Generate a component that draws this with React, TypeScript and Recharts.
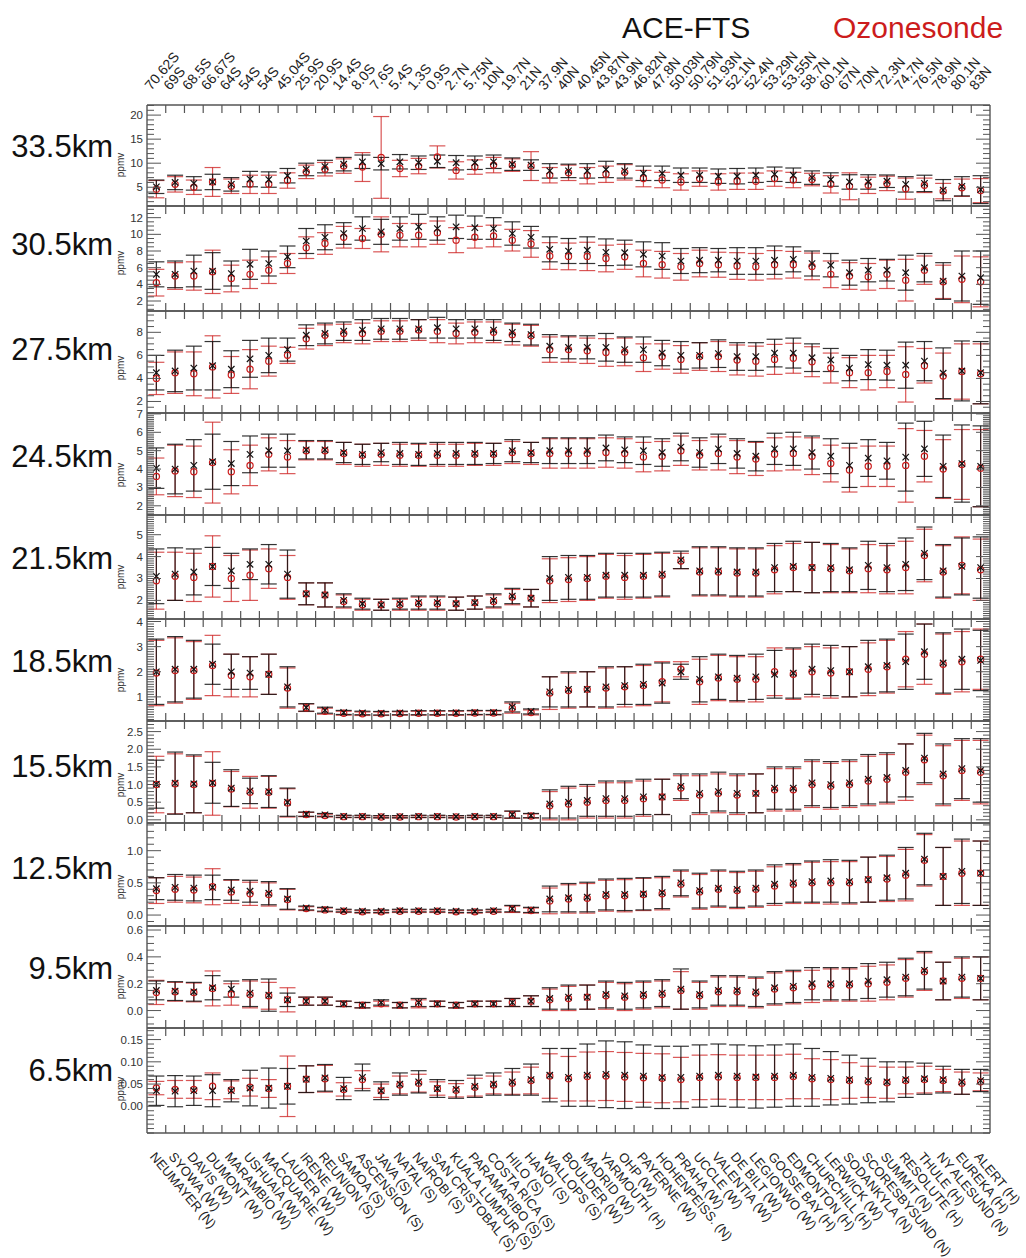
import React from "react";
import { ScatterChart, Scatter, XAxis, YAxis, ErrorBar, ReferenceLine } from "recharts";

// ─── Stations (south → north) ────────────────────────────────────────────────

const latitudes = [
  "70.62S", "69S", "68.5S", "66.67S", "64S", "54S", "54S", "45.04S", "25.9S", "20.9S",
  "14.4S", "8.0S", "7.6S", "5.4S", "1.3S", "0.9S", "2.7N", "5.75N", "10N", "19.7N",
  "21N", "37.9N", "40N", "40.45N", "43.87N", "43.9N", "46.82N", "47.8N", "50.03N", "50.79N",
  "51.93N", "52.1N", "52.4N", "53.29N", "53.55N", "58.7N", "60.1N", "67N", "70N", "72.3N",
  "74.7N", "76.5N", "78.9N", "80.1N", "83N",
];

const stations = [
  "NEUMAYER (N)", "SYOWA (W)", "DAVIS (W)", "DUMONT (W)", "MARAMBIO (W)", "USHUAIA (W)",
  "MACQUARIE (W)", "LAUDER (W)", "IRENE (W)", "REUNION (S)", "SAMOA (S)", "ASCENSION (S)",
  "JAVA (S)", "NATAL (S)", "NAIROBI (S)", "SAN CRISTOBAL (S)", "KUALA LUMPUR (S)",
  "PARAMARIBO (S)", "COSTA RICA (S)", "HILO (S)", "HANOI (S)", "WALLOPS (S)", "BOULDER (W)",
  "MADRID (W)", "YARMOUTH (H)", "OHP (W)", "PAYERNE (W)", "HOHENPEISS. (N)", "PRAHA (W)",
  "UCCLE (W)", "VALENTIA (W)", "DE BILT (W)", "LEGIONWO (W)", "GOOSE BAY (H)", "EDMONTON (H)",
  "CHURCHILL (H)", "LERWICK (W)", "SODANKYLA (N)", "SCORESBYSUND (N)", "SUMMIT (N)",
  "RESOLUTE (H)", "THULE (H)", "NY ALESUND (N)", "EUREKA (H)", "ALERT (H)",
];

// ─── Values (ppmv) per altitude: ACE-FTS mean / error, ozonesonde mean / error ─

const ace335 = [5.1, 6.0, 5.8, 6.1, 5.6, 6.7, 6.6, 7.4, 8.7, 9.3, 9.8, 10.3, 9.9, 10.3, 10.1, 10.4, 10.1, 10.1, 10.3, 9.8, 9.6, 8.4, 8.4, 8.4, 8.7, 8.4, 7.9, 7.9, 7.5, 7.5, 7.3, 7.3, 7.5, 7.7, 7.5, 7.0, 6.6, 6.1, 6.1, 6.25, 5.6, 5.8, 4.4, 5.2, 4.5];
const aceErr335 = [1.4, 1.5, 1.4, 1.6, 1.4, 1.6, 1.6, 1.5, 1.3, 1.3, 1.4, 1.4, 1.3, 1.5, 1.4, 1.3, 1.5, 1.4, 1.4, 1.3, 1.1, 1.5, 1.4, 1.5, 1.7, 1.5, 1.5, 1.5, 1.5, 1.5, 1.5, 1.6, 1.5, 1.5, 1.5, 1.4, 1.4, 1.5, 1.5, 1.3, 1.6, 1.7, 2.2, 2.0, 2.9];
const sonde335 = [4.6, 5.6, 5.0, 6.1, 5.2, 5.6, 5.6, 6.4, 8.2, 8.75, 9.4, 9.2, 11.2, 8.9, 9.4, 11.3, 8.5, 9.2, 9.6, 9.6, 9.4, 7.5, 8.0, 7.4, 7.7, 8.1, 6.8, 6.5, 6.1, 6.8, 6.1, 6.25, 6.25, 6.8, 6.5, 6.6, 5.6, 5.2, 5.4, 5.8, 4.7, 5.4, 4.2, 4.9, 4.3];
const sondeErr335 = [1.8, 1.6, 1.5, 3.0, 1.5, 1.9, 1.9, 1.6, 1.4, 1.4, 1.5, 3.0, 8.5, 1.7, 1.6, 2.3, 1.8, 1.5, 1.6, 1.3, 3.0, 1.6, 1.6, 1.7, 1.7, 1.6, 1.7, 1.6, 1.7, 1.6, 1.7, 1.7, 1.7, 1.6, 1.6, 1.3, 1.8, 2.8, 1.7, 1.5, 2.2, 1.5, 1.6, 1.8, 2.5];

const ace305 = [5.2, 5.2, 5.6, 5.6, 5.3, 6.4, 6.5, 7.3, 9.2, 9.65, 10.1, 10.7, 10.3, 10.7, 10.9, 10.7, 10.9, 10.8, 10.7, 10.1, 9.65, 8.2, 8.0, 8.1, 7.85, 7.8, 7.6, 7.4, 6.8, 6.9, 6.9, 6.8, 6.8, 6.9, 7.0, 6.5, 6.3, 5.4, 5.7, 5.7, 5.4, 6.0, 4.4, 5.0, 4.8];
const aceErr305 = [1.5, 1.6, 1.9, 2.2, 1.5, 1.8, 1.5, 1.3, 1.5, 1.5, 1.3, 1.4, 1.5, 1.4, 1.5, 1.4, 1.4, 1.4, 1.3, 1.4, 1.3, 1.5, 1.5, 1.6, 1.6, 1.5, 1.5, 1.6, 1.5, 1.5, 1.4, 1.6, 1.6, 1.7, 1.5, 1.5, 1.4, 1.5, 1.4, 1.3, 2.1, 1.7, 2.2, 3.0, 3.2];
const sonde305 = [4.2, 5.0, 5.0, 5.5, 4.7, 5.2, 5.7, 6.5, 8.4, 8.9, 9.65, 9.5, 10.0, 9.9, 9.9, 10.2, 9.3, 9.65, 9.8, 9.3, 8.85, 7.4, 7.35, 7.35, 7.1, 7.3, 6.5, 6.35, 6.1, 6.5, 6.35, 6.2, 6.1, 6.35, 6.35, 6.15, 5.2, 5.0, 4.9, 5.2, 4.5, 5.7, 4.3, 4.6, 4.3];
const sondeErr305 = [1.6, 1.6, 1.7, 2.6, 1.6, 1.7, 1.6, 1.2, 1.3, 1.3, 1.3, 1.2, 2.1, 1.4, 1.4, 1.4, 1.5, 1.3, 1.3, 1.3, 1.6, 1.6, 1.6, 1.7, 1.6, 1.5, 1.6, 1.6, 1.6, 1.6, 1.5, 1.6, 1.6, 1.7, 1.6, 1.6, 1.6, 1.6, 1.6, 1.7, 2.5, 1.7, 2.0, 2.8, 3.0];

const ace275 = [4.5, 4.65, 4.9, 5.1, 4.8, 5.7, 6.0, 6.5, 7.75, 7.9, 8.1, 8.2, 8.3, 8.3, 8.3, 8.4, 8.3, 8.3, 8.2, 8.0, 7.8, 6.8, 6.7, 6.7, 6.7, 6.5, 6.5, 6.2, 6.0, 6.0, 6.15, 5.9, 5.9, 6.2, 6.2, 5.8, 5.6, 4.9, 5.2, 5.15, 5.15, 5.5, 4.45, 4.65, 4.5];
const aceErr275 = [1.5, 1.8, 1.9, 2.1, 1.6, 1.6, 1.5, 1.0, 0.9, 0.9, 0.8, 0.9, 0.9, 0.9, 0.8, 0.9, 0.8, 0.8, 0.9, 0.8, 0.9, 1.0, 1.0, 1.0, 1.2, 1.1, 1.1, 1.1, 1.2, 1.1, 1.2, 1.2, 1.2, 1.2, 1.3, 1.2, 1.0, 1.1, 1.3, 1.3, 2.0, 1.7, 2.2, 2.6, 2.7];
const sonde275 = [4.0, 4.5, 4.4, 5.0, 4.3, 4.8, 5.5, 6.0, 7.45, 7.75, 7.9, 7.9, 8.1, 8.1, 8.2, 8.1, 7.9, 8.0, 8.0, 7.8, 7.7, 6.5, 6.5, 6.4, 6.25, 6.3, 5.8, 5.9, 5.65, 5.9, 5.9, 5.6, 5.5, 5.65, 5.75, 5.45, 4.9, 4.5, 4.5, 4.6, 4.35, 5.1, 4.2, 4.6, 4.4];
const sondeErr275 = [1.4, 1.8, 1.9, 2.7, 1.6, 1.7, 1.3, 0.7, 0.9, 0.9, 0.8, 0.9, 0.9, 0.9, 0.9, 1.0, 0.9, 0.9, 0.9, 0.9, 0.9, 1.1, 1.1, 1.1, 1.2, 1.2, 1.2, 1.1, 1.2, 1.2, 1.3, 1.3, 1.3, 1.3, 1.3, 1.3, 1.3, 1.3, 1.5, 1.4, 2.4, 1.5, 2.0, 2.4, 2.6];

const ace245 = [4.05, 4.0, 4.2, 4.4, 4.3, 4.8, 5.0, 5.0, 5.05, 5.05, 4.9, 4.8, 4.9, 4.85, 4.8, 4.85, 4.85, 4.85, 4.85, 5.0, 4.9, 5.0, 5.0, 5.0, 5.15, 5.05, 5.0, 4.9, 5.2, 4.9, 5.1, 4.85, 4.7, 5.1, 5.1, 4.9, 4.7, 4.2, 4.6, 4.45, 4.65, 5.1, 4.15, 4.3, 4.15];
const aceErr245 = [1.1, 1.35, 1.4, 1.5, 1.2, 1.0, 0.9, 0.9, 0.5, 0.5, 0.55, 0.55, 0.5, 0.6, 0.6, 0.6, 0.6, 0.6, 0.55, 0.6, 0.55, 0.7, 0.7, 0.7, 0.7, 0.7, 0.75, 0.75, 0.75, 0.8, 0.8, 0.8, 0.8, 0.85, 0.9, 0.9, 0.95, 1.2, 1.0, 1.0, 1.85, 1.5, 1.7, 2.1, 2.2];
const sonde245 = [3.6, 3.9, 3.85, 4.35, 3.85, 4.2, 4.8, 4.65, 5.0, 5.0, 4.85, 4.75, 4.8, 4.75, 4.75, 4.75, 4.75, 4.8, 4.8, 4.9, 4.85, 4.85, 4.85, 4.85, 4.9, 4.85, 4.65, 4.7, 5.0, 4.75, 4.85, 4.65, 4.55, 4.8, 4.85, 4.7, 4.3, 3.95, 4.15, 4.15, 4.2, 4.7, 4.0, 4.25, 4.05];
const sondeErr245 = [1.0, 1.4, 1.4, 2.2, 1.2, 1.1, 0.9, 0.9, 0.5, 0.5, 0.6, 0.6, 0.6, 0.6, 0.6, 0.6, 0.6, 0.6, 0.6, 0.6, 0.6, 0.8, 0.8, 0.8, 0.8, 0.8, 0.8, 0.8, 0.8, 0.8, 0.9, 0.9, 0.9, 0.9, 0.9, 1.0, 1.0, 1.2, 1.1, 1.1, 2.0, 1.4, 1.6, 1.9, 2.1];

const ace215 = [3.1, 3.2, 3.3, 3.55, 3.35, 3.65, 3.65, 3.2, 2.3, 2.25, 2.0, 1.85, 1.8, 1.85, 1.9, 1.9, 1.85, 1.9, 2.0, 2.2, 2.1, 3.0, 3.05, 3.05, 3.15, 3.15, 3.15, 3.2, 3.85, 3.35, 3.35, 3.3, 3.3, 3.5, 3.55, 3.5, 3.5, 3.4, 3.6, 3.5, 3.65, 4.15, 3.35, 3.55, 3.5];
const aceErr215 = [1.25, 1.2, 1.05, 0.87, 0.8, 0.7, 0.9, 1.1, 0.5, 0.55, 0.3, 0.25, 0.25, 0.25, 0.3, 0.3, 0.3, 0.3, 0.3, 0.35, 0.4, 1.0, 1.0, 1.0, 1.0, 1.0, 1.0, 1.0, 0.4, 1.1, 1.1, 1.1, 1.1, 1.1, 1.15, 1.15, 1.1, 1.0, 1.1, 1.1, 1.2, 1.2, 1.2, 1.3, 1.4];
const sonde215 = [2.9, 3.1, 3.05, 3.55, 3.0, 3.15, 3.45, 3.05, 2.3, 2.25, 1.95, 1.8, 1.8, 1.8, 1.85, 1.85, 1.85, 1.9, 1.95, 2.15, 2.1, 2.9, 2.95, 3.0, 3.1, 3.05, 3.1, 3.15, 3.8, 3.3, 3.3, 3.25, 3.25, 3.4, 3.5, 3.5, 3.45, 3.35, 3.45, 3.4, 3.5, 4.05, 3.3, 3.6, 3.4];
const sondeErr215 = [1.3, 1.1, 1.1, 1.4, 1.05, 1.15, 0.9, 1.0, 0.5, 0.55, 0.3, 0.25, 0.25, 0.25, 0.3, 0.3, 0.3, 0.3, 0.3, 0.35, 0.4, 1.0, 1.0, 1.0, 1.0, 1.0, 1.0, 1.0, 0.35, 1.1, 1.1, 1.1, 1.1, 1.1, 1.1, 1.15, 1.1, 1.0, 1.1, 1.1, 1.2, 1.2, 1.2, 1.3, 1.4];

const ace185 = [2.0, 2.1, 2.1, 2.3, 2.0, 1.95, 1.9, 1.4, 0.58, 0.47, 0.38, 0.36, 0.35, 0.36, 0.37, 0.37, 0.37, 0.38, 0.38, 0.6, 0.42, 1.2, 1.3, 1.3, 1.4, 1.45, 1.5, 1.55, 2.0, 1.7, 1.8, 1.75, 1.8, 1.9, 1.95, 2.1, 2.05, 2.0, 2.2, 2.25, 2.4, 2.8, 2.35, 2.5, 2.45];
const aceErr185 = [1.3, 1.3, 1.15, 0.8, 0.7, 0.65, 0.8, 0.8, 0.15, 0.12, 0.08, 0.07, 0.07, 0.07, 0.08, 0.08, 0.08, 0.08, 0.08, 0.2, 0.1, 0.6, 0.7, 0.7, 0.8, 0.75, 0.8, 0.8, 0.3, 0.9, 0.9, 0.9, 0.9, 0.95, 1.0, 1.0, 1.0, 1.0, 1.05, 1.05, 1.1, 1.1, 1.2, 1.2, 1.2];
const sonde185 = [1.95, 2.05, 2.05, 2.25, 1.85, 1.8, 1.9, 1.35, 0.57, 0.43, 0.35, 0.33, 0.33, 0.34, 0.35, 0.35, 0.35, 0.36, 0.36, 0.55, 0.38, 1.15, 1.25, 1.3, 1.35, 1.4, 1.45, 1.6, 2.1, 1.6, 1.75, 1.7, 1.7, 2.0, 1.9, 2.0, 1.95, 2.0, 2.1, 2.2, 2.5, 2.7, 2.3, 2.4, 2.5];
const sondeErr185 = [1.3, 1.3, 1.15, 1.2, 0.85, 0.8, 0.8, 0.8, 0.15, 0.12, 0.08, 0.07, 0.07, 0.07, 0.08, 0.08, 0.08, 0.08, 0.08, 0.2, 0.1, 0.65, 0.7, 0.7, 0.8, 0.8, 0.8, 0.8, 0.3, 0.9, 0.9, 0.9, 0.9, 0.95, 1.0, 1.0, 1.0, 1.0, 1.05, 1.05, 1.1, 1.2, 1.2, 1.2, 1.2];

const ace155 = [1.01, 1.04, 1.02, 1.05, 0.9, 0.82, 0.8, 0.5, 0.16, 0.14, 0.1, 0.1, 0.09, 0.09, 0.1, 0.1, 0.09, 0.1, 0.1, 0.15, 0.12, 0.45, 0.5, 0.55, 0.6, 0.6, 0.65, 0.65, 0.95, 0.75, 0.8, 0.75, 0.75, 0.9, 0.9, 1.05, 1.0, 1.05, 1.15, 1.2, 1.4, 1.75, 1.3, 1.45, 1.4];
const aceErr155 = [0.68, 0.88, 0.82, 0.58, 0.52, 0.36, 0.45, 0.4, 0.06, 0.04, 0.03, 0.03, 0.03, 0.03, 0.03, 0.03, 0.03, 0.03, 0.03, 0.1, 0.06, 0.4, 0.45, 0.45, 0.5, 0.5, 0.5, 0.5, 0.35, 0.55, 0.55, 0.55, 0.55, 0.6, 0.6, 0.65, 0.65, 0.65, 0.7, 0.7, 0.75, 0.7, 0.85, 0.85, 0.9];
const sonde155 = [1.0, 1.02, 1.0, 1.03, 0.87, 0.78, 0.78, 0.48, 0.15, 0.12, 0.09, 0.09, 0.08, 0.08, 0.09, 0.09, 0.08, 0.09, 0.09, 0.14, 0.11, 0.4, 0.45, 0.5, 0.55, 0.55, 0.6, 0.65, 0.9, 0.7, 0.75, 0.7, 0.75, 0.85, 0.85, 1.0, 0.95, 1.0, 1.1, 1.15, 1.35, 1.7, 1.25, 1.4, 1.35];
const sondeErr155 = [0.8, 0.85, 0.8, 0.9, 0.5, 0.45, 0.45, 0.4, 0.06, 0.04, 0.03, 0.03, 0.03, 0.03, 0.03, 0.03, 0.03, 0.03, 0.03, 0.1, 0.06, 0.4, 0.45, 0.45, 0.5, 0.5, 0.5, 0.5, 0.35, 0.55, 0.55, 0.55, 0.55, 0.6, 0.6, 0.65, 0.65, 0.65, 0.7, 0.7, 0.8, 0.7, 0.85, 0.85, 0.9];

const ace125 = [0.41, 0.43, 0.42, 0.43, 0.39, 0.37, 0.34, 0.25, 0.11, 0.09, 0.07, 0.06, 0.06, 0.07, 0.07, 0.07, 0.06, 0.06, 0.07, 0.1, 0.08, 0.25, 0.27, 0.28, 0.32, 0.32, 0.33, 0.35, 0.5, 0.38, 0.42, 0.4, 0.42, 0.48, 0.5, 0.52, 0.53, 0.52, 0.55, 0.58, 0.65, 0.87, 0.6, 0.68, 0.65];
const aceErr125 = [0.17, 0.2, 0.2, 0.19, 0.16, 0.17, 0.18, 0.16, 0.03, 0.03, 0.02, 0.02, 0.02, 0.02, 0.02, 0.02, 0.02, 0.02, 0.02, 0.05, 0.04, 0.2, 0.22, 0.23, 0.24, 0.25, 0.25, 0.25, 0.2, 0.27, 0.28, 0.28, 0.28, 0.3, 0.3, 0.32, 0.33, 0.33, 0.35, 0.35, 0.4, 0.4, 0.45, 0.5, 0.5];
const sonde125 = [0.38, 0.4, 0.39, 0.44, 0.36, 0.33, 0.32, 0.24, 0.1, 0.08, 0.06, 0.05, 0.05, 0.06, 0.06, 0.06, 0.05, 0.05, 0.06, 0.09, 0.07, 0.22, 0.25, 0.26, 0.3, 0.3, 0.32, 0.33, 0.48, 0.36, 0.4, 0.38, 0.4, 0.45, 0.48, 0.5, 0.5, 0.5, 0.55, 0.56, 0.62, 0.85, 0.6, 0.65, 0.65];
const sondeErr125 = [0.2, 0.2, 0.2, 0.28, 0.18, 0.18, 0.18, 0.16, 0.03, 0.03, 0.02, 0.02, 0.02, 0.02, 0.02, 0.02, 0.02, 0.02, 0.02, 0.05, 0.04, 0.2, 0.22, 0.23, 0.24, 0.25, 0.25, 0.25, 0.2, 0.27, 0.28, 0.28, 0.28, 0.3, 0.3, 0.32, 0.33, 0.33, 0.35, 0.35, 0.4, 0.4, 0.45, 0.5, 0.5];

const ace95 = [0.15, 0.145, 0.14, 0.17, 0.16, 0.13, 0.115, 0.08, 0.07, 0.07, 0.05, 0.04, 0.06, 0.04, 0.06, 0.05, 0.04, 0.05, 0.05, 0.06, 0.07, 0.09, 0.1, 0.1, 0.12, 0.11, 0.12, 0.13, 0.16, 0.12, 0.15, 0.15, 0.14, 0.17, 0.18, 0.2, 0.2, 0.2, 0.22, 0.23, 0.25, 0.3, 0.22, 0.25, 0.24];
const aceErr95 = [0.07, 0.07, 0.07, 0.09, 0.06, 0.1, 0.12, 0.05, 0.03, 0.03, 0.02, 0.02, 0.02, 0.02, 0.03, 0.02, 0.02, 0.02, 0.02, 0.03, 0.04, 0.08, 0.09, 0.09, 0.1, 0.1, 0.1, 0.1, 0.15, 0.1, 0.11, 0.11, 0.11, 0.12, 0.12, 0.12, 0.12, 0.12, 0.13, 0.13, 0.14, 0.14, 0.14, 0.15, 0.16];
const sonde95 = [0.135, 0.14, 0.135, 0.165, 0.12, 0.12, 0.11, 0.08, 0.07, 0.07, 0.05, 0.04, 0.05, 0.04, 0.05, 0.05, 0.04, 0.05, 0.05, 0.06, 0.07, 0.08, 0.09, 0.1, 0.11, 0.1, 0.11, 0.12, 0.15, 0.11, 0.14, 0.14, 0.13, 0.16, 0.17, 0.18, 0.19, 0.19, 0.2, 0.21, 0.24, 0.29, 0.22, 0.24, 0.24];
const sondeErr95 = [0.09, 0.07, 0.07, 0.13, 0.08, 0.1, 0.1, 0.09, 0.03, 0.03, 0.02, 0.02, 0.02, 0.02, 0.03, 0.02, 0.02, 0.02, 0.02, 0.03, 0.04, 0.08, 0.09, 0.09, 0.1, 0.1, 0.1, 0.1, 0.14, 0.1, 0.11, 0.11, 0.11, 0.12, 0.12, 0.12, 0.12, 0.12, 0.13, 0.13, 0.14, 0.14, 0.14, 0.15, 0.16];

const ace65 = [0.035, 0.034, 0.035, 0.035, 0.035, 0.041, 0.041, 0.045, 0.061, 0.064, 0.04, 0.065, 0.035, 0.05, 0.055, 0.04, 0.038, 0.045, 0.05, 0.055, 0.06, 0.07, 0.065, 0.07, 0.072, 0.07, 0.068, 0.065, 0.065, 0.068, 0.07, 0.068, 0.066, 0.068, 0.07, 0.065, 0.063, 0.06, 0.058, 0.055, 0.06, 0.062, 0.06, 0.055, 0.058];
const aceErr65 = [0.033, 0.035, 0.033, 0.036, 0.025, 0.04, 0.045, 0.04, 0.03, 0.03, 0.025, 0.03, 0.02, 0.025, 0.025, 0.02, 0.02, 0.025, 0.025, 0.03, 0.035, 0.06, 0.065, 0.07, 0.075, 0.075, 0.07, 0.07, 0.07, 0.07, 0.07, 0.07, 0.07, 0.07, 0.07, 0.065, 0.06, 0.055, 0.05, 0.045, 0.04, 0.035, 0.03, 0.028, 0.025];
const sonde65 = [0.041, 0.038, 0.038, 0.045, 0.037, 0.043, 0.04, 0.045, 0.061, 0.062, 0.038, 0.06, 0.035, 0.048, 0.052, 0.04, 0.036, 0.043, 0.048, 0.052, 0.058, 0.068, 0.062, 0.067, 0.068, 0.066, 0.064, 0.063, 0.06, 0.065, 0.066, 0.065, 0.065, 0.065, 0.067, 0.062, 0.06, 0.058, 0.055, 0.053, 0.058, 0.06, 0.058, 0.052, 0.055];
const sondeErr65 = [0.015, 0.02, 0.02, 0.03, 0.02, 0.02, 0.02, 0.068, 0.03, 0.03, 0.015, 0.02, 0.015, 0.02, 0.02, 0.015, 0.015, 0.02, 0.02, 0.025, 0.03, 0.05, 0.05, 0.055, 0.055, 0.055, 0.055, 0.055, 0.05, 0.05, 0.05, 0.05, 0.05, 0.05, 0.05, 0.045, 0.045, 0.04, 0.035, 0.035, 0.03, 0.03, 0.025, 0.025, 0.02];

// ─── Axis ticks per panel ────────────────────────────────────────────────────

const ticks335 = [5, 10, 15, 20];
const ticks305 = [2, 4, 6, 8, 10, 12];
const ticks275 = [2, 4, 6, 8];
const ticks245 = [2, 3, 4, 5, 6, 7];
const ticks215 = [2, 3, 4, 5];
const ticks185 = [1, 2, 3, 4];
const ticks155 = [0, 0.5, 1, 1.5, 2, 2.5];
const ticks125 = [0, 0.5, 1];
const ticks95 = [0, 0.2, 0.4, 0.6];
const ticks65 = [0, 0.05, 0.1, 0.15];

// ─── Layout ──────────────────────────────────────────────────────────────────

const W = 1026;
const H = 1258;
const PLOT_LEFT = 147;
const PLOT_RIGHT = 990;
const STEP = (PLOT_RIGHT - PLOT_LEFT) / stations.length;
const RED = "#cc1c1c";
const AXIS = "#555";
const FONT = "'Liberation Sans', Arial, Helvetica, sans-serif";
const X_AXIS_H = 1; // CartesianAxis renders nothing at height 0

type Panel = {
  label: string; labelY: number; top: number; bottom: number;
  domain: [number, number]; major: number[]; minorStep: number; digits: number;
  ace: number[]; aceErr: number[]; sonde: number[]; sondeErr: number[];
};

const panels: Panel[] = [
  { label: "33.5km", labelY: 157, top: 105, bottom: 206, domain: [1.1, 22.1], major: ticks335, minorStep: 1, digits: 0, ace: ace335, aceErr: aceErr335, sonde: sonde335, sondeErr: sondeErr335 },
  { label: "30.5km", labelY: 255, top: 206, bottom: 311, domain: [0.8, 13.4], major: ticks305, minorStep: 0.5, digits: 0, ace: ace305, aceErr: aceErr305, sonde: sonde305, sondeErr: sondeErr305 },
  { label: "27.5km", labelY: 360, top: 311, bottom: 413, domain: [1.0, 9.85], major: ticks275, minorStep: 0.5, digits: 0, ace: ace275, aceErr: aceErr275, sonde: sonde275, sondeErr: sondeErr275 },
  { label: "24.5km", labelY: 467, top: 413, bottom: 515, domain: [1.5, 7.05], major: ticks245, minorStep: 0.1, digits: 0, ace: ace245, aceErr: aceErr245, sonde: sonde245, sondeErr: sondeErr245 },
  { label: "21.5km", labelY: 569, top: 515, bottom: 619, domain: [1.15, 5.9], major: ticks215, minorStep: 0.1, digits: 0, ace: ace215, aceErr: aceErr215, sonde: sonde215, sondeErr: sondeErr215 },
  { label: "18.5km", labelY: 672, top: 619, bottom: 721, domain: [0.04, 4.1], major: ticks185, minorStep: 0.1, digits: 0, ace: ace185, aceErr: aceErr185, sonde: sonde185, sondeErr: sondeErr185 },
  { label: "15.5km", labelY: 777, top: 721, bottom: 823, domain: [-0.09, 2.8], major: ticks155, minorStep: 0.1, digits: 1, ace: ace155, aceErr: aceErr155, sonde: sonde155, sondeErr: sondeErr155 },
  { label: "12.5km", labelY: 879, top: 823, bottom: 926, domain: [-0.17, 1.43], major: ticks125, minorStep: 0.1, digits: 1, ace: ace125, aceErr: aceErr125, sonde: sonde125, sondeErr: sondeErr125 },
  { label: "9.5km", labelY: 979, top: 926, bottom: 1028, domain: [-0.13, 0.63], major: ticks95, minorStep: 0.05, digits: 1, ace: ace95, aceErr: aceErr95, sonde: sonde95, sondeErr: sondeErr95 },
  { label: "6.5km", labelY: 1081, top: 1028, bottom: 1133, domain: [-0.06, 0.176], major: ticks65, minorStep: 0.01, digits: 2, ace: ace65, aceErr: aceErr65, sonde: sonde65, sondeErr: sondeErr65 },
];

const stationIdx = stations.map((_, i) => i);

function buildTicks(domain: [number, number], major: number[], step: number) {
  const out = major.filter((v) => v >= domain[0] && v <= domain[1] + 1e-9);
  const start = Math.ceil(domain[0] / step - 1e-9);
  for (let k = start; k * step <= domain[1] + 1e-9; k++) {
    const v = +(k * step).toFixed(6);
    if (!major.some((m) => Math.abs(m - v) < 1e-9)) out.push(v);
  }
  return out.sort((a, b) => a - b);
}

// ─── Markers ─────────────────────────────────────────────────────────────────

const CrossShape = (props: any) => {
  const { cx, cy } = props;
  const s = 3.2;
  return (
    <g stroke="#111" strokeWidth={1.2}>
      <line x1={cx - s} y1={cy - s} x2={cx + s} y2={cy + s} />
      <line x1={cx - s} y1={cy + s} x2={cx + s} y2={cy - s} />
    </g>
  );
};

const CircleShape = (props: any) => (
  <circle cx={props.cx} cy={props.cy} r={3.1} fill="none" stroke={RED} strokeWidth={1.2} />
);

// ─── One altitude panel ──────────────────────────────────────────────────────

function PanelChart({ p, index }: { p: Panel; index: number }) {
  const first = index === 0;
  const last = index === panels.length - 1;
  const marginTop = first ? p.top : 10;
  const marginBottom = (last ? H - p.bottom : 10) - X_AXIS_H;
  const chartTop = p.top - marginTop;
  const height = p.bottom - p.top + marginTop + marginBottom + X_AXIS_H;

  const aceData = stationIdx.map((i) => ({ x: i, y: p.ace[i], e: p.aceErr[i] }));
  const sondeData = stationIdx.map((i) => ({ x: i, y: p.sonde[i], e: p.sondeErr[i] }));
  const yTicks = buildTicks(p.domain, p.major, p.minorStep);

  const yTick = (props: any) => {
    const { y, payload } = props;
    const v = payload.value as number;
    const isMajor = p.major.some((m) => Math.abs(m - v) < 1e-9);
    const len = isMajor ? 14 : 7;
    return (
      <g>
        <line x1={PLOT_LEFT} x2={PLOT_LEFT + len} y1={y} y2={y} stroke={AXIS} strokeWidth={1} />
        <line x1={PLOT_RIGHT - len} x2={PLOT_RIGHT} y1={y} y2={y} stroke={AXIS} strokeWidth={1} />
        {isMajor && (
          <text x={PLOT_LEFT - 4} y={y + 4} textAnchor="end" fontSize={11.5} fill="#333" fontFamily={FONT}>
            {v.toFixed(p.digits)}
          </text>
        )}
      </g>
    );
  };

  const xTick = (props: any) => {
    const { x, payload } = props;
    const i = payload.value as number;
    const bottomY = p.bottom - chartTop;
    const topY = p.top - chartTop;
    const mx = x + STEP / 2;
    return (
      <g>
        {i < stations.length - 1 && (
          <>
            <line x1={mx} x2={mx} y1={bottomY} y2={bottomY - 8} stroke={AXIS} strokeWidth={1.2} />
            <line x1={mx} x2={mx} y1={topY} y2={topY + 8} stroke={AXIS} strokeWidth={1.2} />
          </>
        )}
        {first && (
          <text transform={`translate(${x - 5},${topY - 14}) rotate(-50)`} fontSize={14} fill="#222" fontFamily={FONT}>
            {latitudes[i]}
          </text>
        )}
        {last && (
          <text transform={`translate(${x - 7},${bottomY + 24}) rotate(50)`} fontSize={13} fill="#222" fontFamily={FONT}>
            {stations[i]}
          </text>
        )}
      </g>
    );
  };

  return (
    <div style={{ position: "absolute", left: 0, top: chartTop }}>
      <ScatterChart width={W} height={height} margin={{ top: marginTop, right: W - PLOT_RIGHT, bottom: marginBottom, left: 0 }}>
        <XAxis
          type="number"
          dataKey="x"
          domain={[-0.5, stations.length - 0.5]}
          ticks={stationIdx}
          interval={0}
          height={X_AXIS_H}
          tickSize={0}
          tickMargin={0}
          tickLine={false}
          tick={xTick}
          axisLine={{ stroke: AXIS, strokeWidth: 1.4 }}
          allowDataOverflow
        />
        <YAxis
          type="number"
          dataKey="y"
          domain={p.domain}
          ticks={yTicks}
          interval={0}
          width={PLOT_LEFT}
          tickSize={0}
          tickMargin={0}
          tickLine={false}
          tick={yTick}
          axisLine={{ stroke: AXIS, strokeWidth: 1.4 }}
          allowDataOverflow
        />
        <ReferenceLine y={p.domain[1]} stroke={AXIS} strokeWidth={1.4} />
        <ReferenceLine x={stations.length - 0.5} stroke={AXIS} strokeWidth={1.4} />
        <Scatter data={sondeData} shape={CircleShape} isAnimationActive={false}>
          <ErrorBar dataKey="e" direction="y" width={8} stroke={RED} strokeOpacity={0.75} strokeWidth={1.2} />
        </Scatter>
        <Scatter data={aceData} shape={CrossShape} isAnimationActive={false}>
          <ErrorBar dataKey="e" direction="y" width={8} stroke="#111" strokeOpacity={0.85} strokeWidth={1.2} />
        </Scatter>
      </ScatterChart>
    </div>
  );
}

// ─── Page ────────────────────────────────────────────────────────────────────

export default function App() {
  return (
    <div style={{ position: "absolute", left: 0, top: 0, width: W, height: H, background: "#fff", fontFamily: FONT }}>
      <svg width={W} height={H} style={{ position: "absolute", left: 0, top: 0 }}>
        <text x={622} y={38} fontSize={30} fill="#111" fontFamily={FONT}>ACE-FTS</text>
        <text x={833} y={38} fontSize={30} fill={RED} fontFamily={FONT}>Ozonesonde</text>
        {panels.map((p) => (
          <g key={p.label}>
            <text x={113} y={p.labelY} fontSize={31} textAnchor="end" fill="#111" fontFamily={FONT}>
              {p.label}
            </text>
            <text
              transform={`translate(124,${p.labelY + 8}) rotate(-90)`}
              fontSize={10}
              textAnchor="middle"
              fill="#333"
              fontFamily={FONT}
            >
              ppmv
            </text>
          </g>
        ))}
      </svg>
      {panels.map((p, i) => (
        <PanelChart key={p.label} p={p} index={i} />
      ))}
    </div>
  );
}
